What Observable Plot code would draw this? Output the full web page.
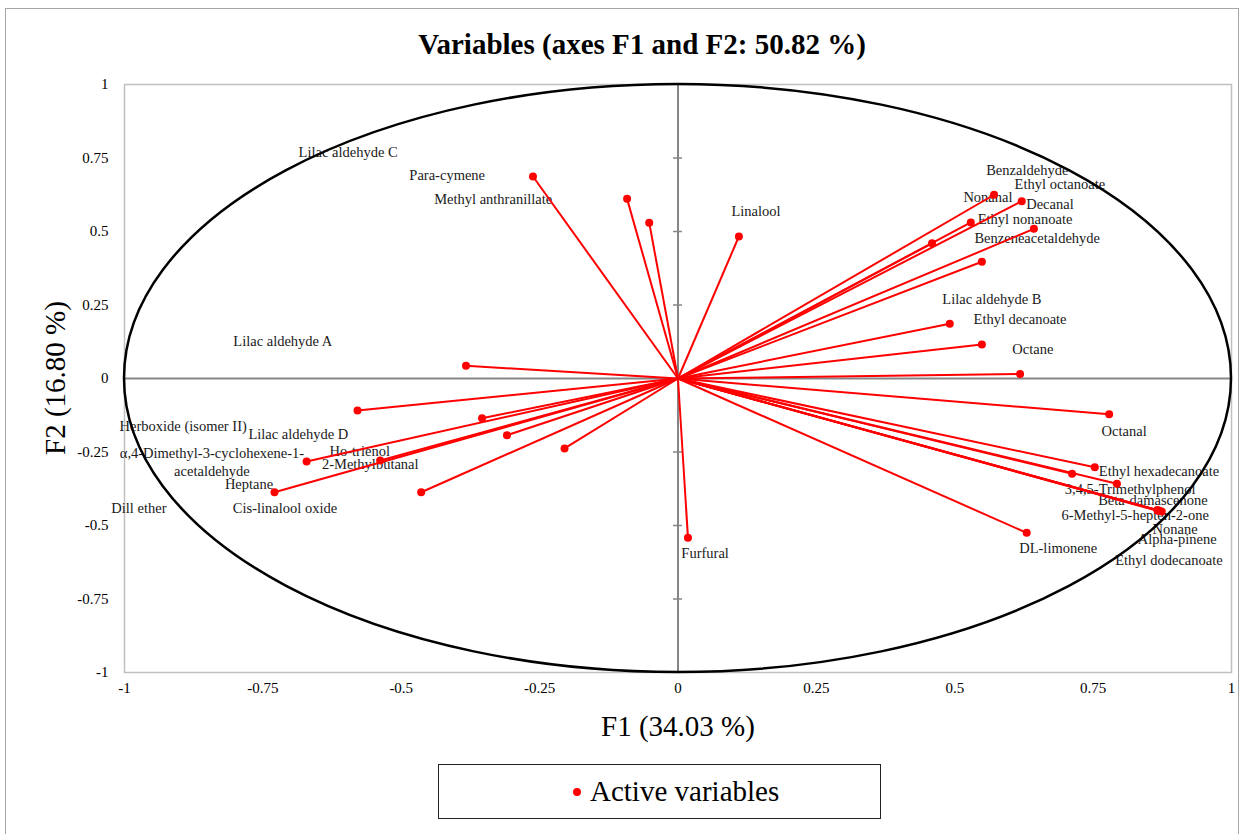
<!DOCTYPE html>
<html>
<head>
<meta charset="utf-8">
<script src="https://cdn.jsdelivr.net/npm/d3@7"></script>
<script src="https://cdn.jsdelivr.net/npm/@observablehq/plot@0.6"></script>
<style>
  body { margin: 0; background: #fff; }
  #wrap { position: relative; width: 1244px; height: 834px; overflow: hidden; background: #fff; font-family: "Liberation Serif", "Times New Roman", serif; color: #000; }
  #border { position: absolute; left: 5px; top: 8px; width: 1232px; height: 860px; border: 1.5px solid #a6a6a6; }
  #chart { position: absolute; left: 0; top: 0; }
  #chart svg, #chart svg text { font-family: "Liberation Serif", "Times New Roman", serif !important; }
  .abs { position: absolute; white-space: nowrap; line-height: 1; }
  #title { left: 20px; width: 1244px; top: 30px; text-align: center; font-weight: bold; font-size: 29px; }
  #xlabel { left: 0; width: 1356px; top: 712px; text-align: center; font-size: 29px; }
  #ylabel { left: 55px; top: 378px; font-size: 29px; transform: translate(-50%, -50%) rotate(-90deg); }
  #legend { left: 438px; top: 764px; width: 441px; height: 53px; border: 1px solid #222; }
  #legend .dot { position: absolute; left: 134px; top: 23px; width: 8px; height: 8px; border-radius: 50%; background: #ff0000; }
  #legend .txt { position: absolute; left: 151px; top: 12px; font-size: 29px; }
</style>
</head>
<body>
<div id="wrap">
  <div id="border"></div>
  <div id="chart"></div>
  <div id="title" class="abs">Variables (axes F1 and F2: 50.82 %)</div>
  <div id="xlabel" class="abs">F1 (34.03 %)</div>
  <div id="ylabel" class="abs">F2 (16.80 %)</div>
  <div id="legend" class="abs"><span class="dot"></span><span class="txt">Active variables</span></div>
</div>
<script>
// Volatile compounds: loadings on the first two factors
const variableNames = [
  "Para-cymene", "Lilac aldehyde C", "Methyl anthranillate", "Linalool", "Lilac aldehyde A",
  "Herboxide (isomer II)", "Lilac aldehyde D", "Ho-trienol", "α,4-Dimethyl-3-cyclohexene-1-\nacetaldehyde",
  "2-Methylbutanal", "Heptane", "Cis-linalool oxide", "Dill ether",
  "Furfural",
  "Benzaldehyde", "Ethyl octanoate", "Nonanal", "Decanal", "Ethyl nonanoate",
  "Benzeneacetaldehyde", "Lilac aldehyde B", "Ethyl decanoate", "Octane",
  "Octanal", "Ethyl hexadecanoate", "3,4,5-Trimethylphenol", "Beta-damascenone",
  "6-Methyl-5-hepten-2-one", "Nonane", "Alpha-pinene", "Ethyl dodecanoate", "DL-limonene"
];
const f1 = [
  -0.262, -0.092, -0.052, 0.110, -0.383,
  -0.579, -0.354, -0.309, -0.671,
  -0.538, -0.729, -0.464, -0.205,
  0.018,
  0.571, 0.621, 0.459, 0.643, 0.529,
  0.549, 0.491, 0.549, 0.618,
  0.779, 0.753, 0.712, 0.793,
  0.870, 0.866, 0.874, 0.868, 0.630
];
const f2 = [
  0.687, 0.611, 0.530, 0.483, 0.043,
  -0.109, -0.135, -0.193, -0.282,
  -0.279, -0.387, -0.387, -0.238,
  -0.542,
  0.625, 0.603, 0.460, 0.509, 0.531,
  0.397, 0.186, 0.116, 0.015,
  -0.122, -0.302, -0.324, -0.358,
  -0.450, -0.447, -0.452, -0.451, -0.525
];
// Where each name is written, in factor units
const labelF1 = [
  -0.417, -0.596, -0.334, 0.141, -0.714,
  -0.894, -0.686, -0.575, -0.842,
  -0.556, -0.775, -0.710, -0.974,
  0.049,
  0.631, 0.690, 0.560, 0.672, 0.627,
  0.649, 0.567, 0.618, 0.641,
  0.806, 0.869, 0.817, 0.858,
  0.826, 0.898, 0.902, 0.887, 0.687
];
const labelF2 = [
  0.694, 0.772, 0.612, 0.571, 0.129,
  -0.160, -0.187, -0.245, -0.282,
  -0.289, -0.357, -0.439, -0.439,
  -0.592,
  0.711, 0.663, 0.619, 0.595, 0.544,
  0.480, 0.272, 0.204, 0.102,
  -0.177, -0.313, -0.374, -0.412,
  -0.463, -0.510, -0.544, -0.616, -0.575
];
const axisTicks = [-1, -0.75, -0.5, -0.25, 0, 0.25, 0.5, 0.75, 1];
const axisTickMarks = [-0.75, -0.5, -0.25, 0.25, 0.5, 0.75];

const variables = variableNames.map((name, i) => ({
  name, F1: f1[i], F2: f2[i], labelF1: labelF1[i], labelF2: labelF2[i]
}));

// Short horizontal tick crossing the vertical zero axis
const crossTick = {
  draw(context) { context.moveTo(-5, 0); context.lineTo(4, 0); }
};

// Correlation circle of radius 1, drawn through the x and y scales
function correlationCircle(index, scales) {
  const {x, y} = scales;
  const e = document.createElementNS("http://www.w3.org/2000/svg", "ellipse");
  e.setAttribute("cx", x(0));
  e.setAttribute("cy", y(0));
  e.setAttribute("rx", x(1) - x(0));
  e.setAttribute("ry", y(0) - y(1));
  e.setAttribute("fill", "none");
  e.setAttribute("stroke", "#000");
  e.setAttribute("stroke-width", 2.5);
  return e;
}

const fmt = d => String(d);

const chart = Plot.plot({
  width: 1244,
  height: 834,
  marginLeft: 124,
  marginRight: 13,
  marginTop: 84,
  marginBottom: 162,
  style: { fontFamily: "'Liberation Serif', 'Times New Roman', serif", fontSize: "15px", color: "#000", background: "transparent" },
  x: { domain: [-1, 1], ticks: axisTicks, tickFormat: fmt, tickSize: 0, tickPadding: 10, label: null },
  y: { domain: [-1, 1], ticks: axisTicks, tickFormat: fmt, tickSize: 0, tickPadding: 16, label: null },
  marks: [
    Plot.frame({ stroke: "#c0c0c0", strokeWidth: 1.5 }),
    Plot.ruleX([0], { stroke: "#868686", strokeWidth: 2 }),
    Plot.ruleY([0], { stroke: "#868686", strokeWidth: 2 }),
    Plot.dot(axisTickMarks, { x: () => 0, y: d => d, symbol: crossTick, stroke: "#868686", strokeWidth: 1.5, fill: "none" }),
    Plot.text(variables, {
      x: "labelF1", y: "labelF2", text: "name",
      fontSize: 14.5, fill: "#1a1a1a", lineHeight: 1.2, textAnchor: "middle"
    }),
    correlationCircle,
    Plot.link(variables, { x1: () => 0, y1: () => 0, x2: "F1", y2: "F2", stroke: "#ff0000", strokeWidth: 2 }),
    Plot.dot(variables, { x: "F1", y: "F2", r: 4, fill: "#ff0000", stroke: "none" })
  ]
});
document.getElementById("chart").appendChild(chart);
</script>
</body>
</html>
